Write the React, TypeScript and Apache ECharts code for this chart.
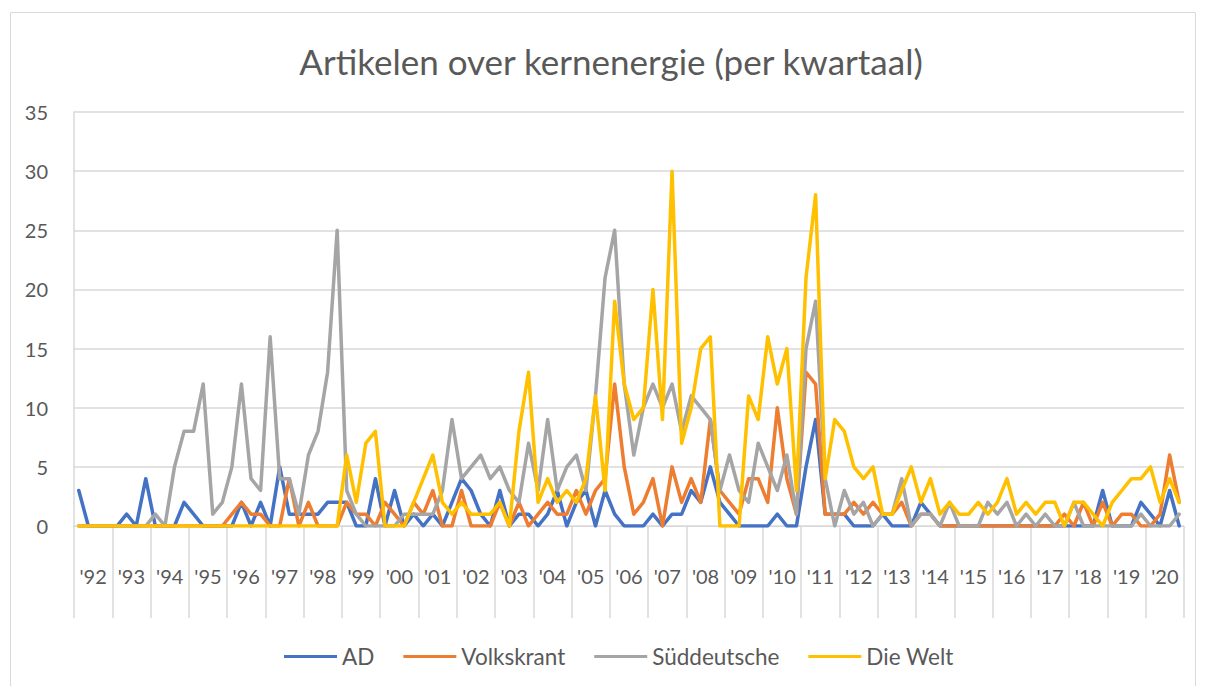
import React, { useEffect, useRef } from "react";
import * as echarts from "echarts";

const years = ["'92","'93","'94","'95","'96","'97","'98","'99","'00","'01","'02","'03","'04","'05","'06","'07","'08","'09","'10","'11","'12","'13","'14","'15","'16","'17","'18","'19","'20"];
const quarterLabels = ["Q1", "Q2", "Q3", "Q4"];

const AD = [
  3,0,0,0,0,1,0,4,0,0,0,2,1,0,
  0,0,0,2,0,2,0,5,1,1,1,1,2,2,
  2,0,0,4,0,3,0,1,0,1,0,2,4,3,
  1,0,3,0,1,1,0,1,3,0,2,3,0,3,
  1,0,0,0,1,0,1,1,3,2,5,2,1,0,
  0,0,0,1,0,0,5,9,1,1,1,0,0,0,
  1,0,0,0,2,1,0,0,0,0,0,0,0,0,
  0,0,0,0,0,0,0,0,0,3,0,0,0,2,
  1,0,3,0,
];
const Volkskrant = [
  0,0,0,0,0,0,0,0,0,0,0,0,0,0,
  0,0,1,2,1,1,0,0,4,0,2,0,0,0,
  2,1,1,0,2,1,0,2,1,3,0,0,3,0,
  0,0,2,0,2,0,1,2,1,1,3,1,3,4,
  12,5,1,2,4,0,5,2,4,2,9,3,2,1,
  4,4,2,10,4,1,13,12,1,1,1,2,1,2,
  1,1,2,0,1,1,0,0,0,0,0,0,0,0,
  0,0,0,0,0,1,0,2,0,2,0,1,1,0,
  0,1,6,2,
];
const Sueddeutsche = [
  0,0,0,0,0,0,0,0,1,0,5,8,8,12,
  1,2,5,12,4,3,16,4,4,1,6,8,13,25,
  3,1,0,0,0,0,1,1,1,1,3,9,4,5,
  6,4,5,3,2,7,3,9,3,5,6,3,11,21,
  25,12,6,10,12,10,12,8,11,10,9,3,6,3,
  2,7,5,3,6,1,15,19,4,0,3,1,2,0,
  1,1,4,0,1,1,0,2,0,0,0,2,1,2,
  0,1,0,1,0,0,2,0,0,0,0,0,0,1,
  0,0,0,1,
];
const DieWelt = [
  0,0,0,0,0,0,0,0,0,0,0,0,0,0,
  0,0,0,0,0,0,0,0,0,0,0,0,0,0,
  6,2,7,8,0,0,0,2,4,6,2,1,2,1,
  1,1,2,0,8,13,2,4,2,3,2,4,11,3,
  19,12,9,10,20,9,30,7,10,15,16,0,0,0,
  11,9,16,12,15,3,21,28,4,9,8,5,4,5,
  1,1,3,5,2,4,1,2,1,1,2,1,2,4,
  1,2,1,2,2,0,2,2,1,0,2,3,4,4,
  5,2,4,2,
];

const seriesNames = ["AD", "Volkskrant", "Süddeutsche", "Die Welt"];
const seriesColors = ["#4472C4", "#ED7D31", "#A5A5A5", "#FFC000"];

const FONT = "Lato, 'Noto Sans', sans-serif";
const TEXT = "#595959";

export default function App() {
  const ref = useRef<HTMLDivElement>(null);
  useEffect(() => {
    if (!ref.current) return;
    const chart = echarts.init(ref.current, undefined, { renderer: "svg" });
    const quarters = years.flatMap((y) => quarterLabels.map((q) => `${y} ${q}`));
    const datasets = [AD, Volkskrant, Sueddeutsche, DieWelt];
    chart.setOption({
      animation: false,
      backgroundColor: "#ffffff",
      textStyle: { fontFamily: FONT },
      title: {
        text: "Artikelen over kernenergie (per kwartaal)",
        left: 606,
        textAlign: "center",
        top: 38,
        textStyle: { fontFamily: FONT, fontSize: 35, fontWeight: "normal", color: TEXT },
      },
      legend: {
        data: seriesNames,
        top: 640,
        left: 279,
        icon: "rect",
        itemWidth: 53,
        itemHeight: 3,
        itemGap: 29,
        textStyle: { fontFamily: FONT, fontSize: 22.5, color: TEXT },
      },
      grid: { left: 74, right: 22, top: 112, bottom: 160, containLabel: false },
      xAxis: [
        {
          type: "category",
          data: quarters,
          boundaryGap: true,
          position: "bottom",
          axisLine: { show: false },
          axisTick: { show: false },
          axisLabel: { show: false },
          splitLine: { show: false },
        },
        {
          type: "category",
          data: years,
          boundaryGap: true,
          position: "bottom",
          axisLine: { show: true, lineStyle: { color: "#D9D9D9", width: 1 } },
          axisTick: { show: true, interval: 0, length: 92, lineStyle: { color: "#D9D9D9", width: 1.5 } },
          axisLabel: { show: true, interval: 0, margin: 40, fontFamily: FONT, fontSize: 20, color: TEXT },
          splitLine: { show: false },
        },
      ],
      yAxis: {
        type: "value",
        min: 0,
        max: 35,
        interval: 5,
        axisLine: { show: true, lineStyle: { color: "#D9D9D9", width: 1.5 } },
        axisTick: { show: false },
        axisLabel: { margin: 26, fontFamily: FONT, fontSize: 20, color: TEXT },
        splitLine: { lineStyle: { color: "#D9D9D9", width: 1.5 } },
      },
      graphic: [
        {
          type: "rect",
          shape: { x: 10.5, y: 12.5, width: 1185, height: 700 },
          style: { fill: "none", stroke: "#D9D9D9", lineWidth: 1 },
          silent: true,
        },
      ],
      series: datasets.map((d, i) => ({
        name: seriesNames[i],
        type: "line",
        xAxisIndex: 0,
        data: d,
        showSymbol: false,
        symbol: "none",
        color: seriesColors[i],
        lineStyle: { width: 3.5, color: seriesColors[i], cap: "round", join: "round" },
      })),
    });
    return () => chart.dispose();
  }, []);
  return (
    <div
      ref={ref}
      style={{ position: "fixed", left: 0, top: 0, width: 1206, height: 686 }}
    />
  );
}
